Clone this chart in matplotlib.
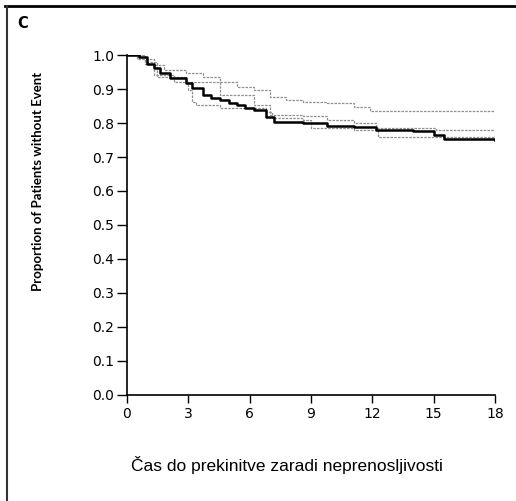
import numpy as np
import matplotlib.pyplot as plt
from matplotlib.lines import Line2D

# Kaplan-Meier style curves (months, proportion)
t_main = [0, 0.6, 1.0, 1.3, 1.6, 2.1, 2.9, 3.2, 3.7, 4.1, 4.55, 5.0, 5.4, 5.8, 6.2, 6.8, 7.2,
          8.6, 9.8, 11.1, 12.2, 14.0, 15.0, 15.5, 18.0]
s_main = [1.0, 0.995, 0.975, 0.961, 0.946, 0.934, 0.919, 0.902, 0.882, 0.875, 0.868, 0.860,
          0.853, 0.845, 0.838, 0.818, 0.804, 0.801, 0.791, 0.787, 0.779, 0.777, 0.765, 0.752, 0.750]

t_grey_a = [0, 0.5, 1.3, 1.8, 2.9, 3.7, 4.55, 5.4, 6.2, 7.0, 7.8, 8.6, 9.8, 11.1, 11.9, 18.0]
s_grey_a = [1.0, 0.99, 0.971, 0.956, 0.946, 0.936, 0.922, 0.907, 0.897, 0.877, 0.868, 0.863,
            0.858, 0.848, 0.836, 0.833]

t_grey_b = [0, 0.9, 1.3, 2.3, 3.0, 3.2, 3.4, 4.55, 6.2, 6.8, 7.1, 8.6, 9.0, 11.1, 12.3, 14.3, 18.0]
s_grey_b = [1.0, 0.975, 0.941, 0.922, 0.897, 0.863, 0.853, 0.843, 0.843, 0.833, 0.814, 0.809,
            0.784, 0.779, 0.760, 0.758, 0.766]

t_grey_c = [0, 0.9, 1.45, 2.9, 4.55, 6.2, 7.0, 8.6, 9.8, 11.1, 12.2, 15.1, 18.0]
s_grey_c = [1.0, 0.98, 0.936, 0.92, 0.882, 0.853, 0.824, 0.82, 0.809, 0.801, 0.784, 0.779, 0.776]

x_ticks = [0, 3, 6, 9, 12, 15, 18]
y_ticks = [0.0, 0.1, 0.2, 0.3, 0.4, 0.5, 0.6, 0.7, 0.8, 0.9, 1.0]

fig = plt.figure(figsize=(5.16, 5.01), dpi=100)
ax = fig.add_axes([0.246, 0.212, 0.713, 0.678])

grey = "#8f8f8f"
for t, s in [(t_grey_a, s_grey_a), (t_grey_b, s_grey_b), (t_grey_c, s_grey_c)]:
    ax.step(t, s, where="post", color=grey, lw=0.9, ls=(0, (2, 1)))
ax.step(t_main, s_main, where="post", color="black", lw=1.8)

ax.set_xlim(0, 18)
ax.set_ylim(0, 1.0)
ax.set_xticks(x_ticks)
ax.set_yticks(y_ticks)
ax.set_yticklabels([f"{v:.1f}" for v in y_ticks])
for sp in ["top", "right"]:
    ax.spines[sp].set_visible(False)
for sp in ["left", "bottom"]:
    ax.spines[sp].set_linewidth(1.2)
ax.tick_params(axis="y", direction="out", length=7, width=1.0, labelsize=10, pad=2)
ax.tick_params(axis="x", direction="out", length=6, width=1.0, labelsize=10, pad=3)

# axis titles placed as in the original panel
fig.text(0.074, 0.638, "Proportion of Patients without Event", rotation=90,
         fontsize=9.5, fontweight="bold", family=["Lato", "DejaVu Sans"],
         ha="center", va="center")
fig.text(0.557, 0.072, "Čas do prekinitve zaradi neprenosljivosti", fontsize=12.5,
         family=["Liberation Sans", "DejaVu Sans"], ha="center", va="center")

fig.text(0.033, 0.954, "C", fontsize=10.5, fontweight="bold", va="center")

# border lines of the scanned panel
fig.add_artist(Line2D([0.01, 1.0], [0.989, 0.989], color="black", lw=2))
fig.add_artist(Line2D([0.014, 0.014], [0.0, 0.989], color="#333333", lw=1.5))

fig.savefig("out.png", dpi=100)
